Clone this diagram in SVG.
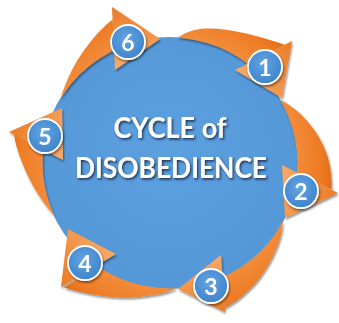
<svg xmlns="http://www.w3.org/2000/svg" width="339" height="323" viewBox="0 0 339 323">
<defs>
<style>
.band{fill:url(#bandGrad)}
.head{stroke:none}
.badge circle{fill:url(#badgeGrad);stroke:#ffffff;stroke-width:1.8}
.badge text{font-family:Lato,"Liberation Sans",sans-serif;font-weight:700;font-size:23px;fill:#ffffff;text-anchor:middle}
.title{font-family:Lato,"Liberation Sans",sans-serif;font-weight:700;font-size:28px;fill:#ffffff;text-anchor:middle}
</style>
<radialGradient id="bandGrad" gradientUnits="userSpaceOnUse" cx="170" cy="163" r="172">
<stop offset="0.72" stop-color="#F38D3C"/>
<stop offset="0.88" stop-color="#EE7B24"/>
<stop offset="1" stop-color="#D8620C"/>
</radialGradient>
<radialGradient id="badgeGrad" cx="0.45" cy="0.4" r="0.6">
<stop offset="0" stop-color="#62A5E4"/>
<stop offset="1" stop-color="#4084CA"/>
</radialGradient>
<radialGradient id="blueGrad" gradientUnits="userSpaceOnUse" cx="170" cy="150" r="135">
<stop offset="0" stop-color="#5CA0E0"/>
<stop offset="1" stop-color="#5598D8"/>
</radialGradient>
<linearGradient id="h1" gradientUnits="userSpaceOnUse" x1="240" y1="75" x2="292" y2="41"><stop offset="0" stop-color="#F7A868"/><stop offset="1" stop-color="#EC7B22"/></linearGradient>
<linearGradient id="h2" gradientUnits="userSpaceOnUse" x1="284" y1="172" x2="338" y2="193"><stop offset="0" stop-color="#F7A868"/><stop offset="1" stop-color="#EC7B22"/></linearGradient>
<linearGradient id="h3" gradientUnits="userSpaceOnUse" x1="214" y1="258" x2="225" y2="312"><stop offset="0" stop-color="#F7A868"/><stop offset="1" stop-color="#EC7B22"/></linearGradient>
<linearGradient id="h4" gradientUnits="userSpaceOnUse" x1="110" y1="250" x2="61" y2="287"><stop offset="0" stop-color="#F7A868"/><stop offset="1" stop-color="#EC7B22"/></linearGradient>
<linearGradient id="h5" gradientUnits="userSpaceOnUse" x1="62" y1="152" x2="9" y2="132"><stop offset="0" stop-color="#F7A868"/><stop offset="1" stop-color="#EC7B22"/></linearGradient>
<linearGradient id="h6" gradientUnits="userSpaceOnUse" x1="122" y1="66" x2="112" y2="7"><stop offset="0" stop-color="#F7A868"/><stop offset="1" stop-color="#EC7B22"/></linearGradient>
<mask id="outside" maskUnits="userSpaceOnUse" x="0" y="0" width="339" height="323">
<rect x="0" y="0" width="339" height="323" fill="#ffffff"/>
<ellipse cx="170" cy="163" rx="127.5" ry="125.5" fill="#000000"/>
</mask>
<filter id="shadow" x="-10%" y="-10%" width="120%" height="120%">
<feDropShadow dx="1" dy="1.8" stdDeviation="1.2" flood-color="#000000" flood-opacity="0.45"/>
</filter>
<filter id="textShadow" x="-10%" y="-20%" width="120%" height="140%">
<feDropShadow dx="1.3" dy="1.6" stdDeviation="0.9" flood-color="#14243a" flood-opacity="0.85"/>
</filter>
</defs>

<g id="center">
<ellipse cx="170" cy="163" rx="128" ry="126" fill="url(#blueGrad)"/>
</g>

<g id="connectors">
<g filter="url(#shadow)">
<g mask="url(#outside)">
<path class="band" d="M174,40 C185,32 195,29 205,28.5 C230,28 260,36 284.6,44.8 L240.7,67.1 C220,55 195,48 174,46 Z"/>
<path class="band" d="M281,100 C300,110 318,130 326,152 C330,163 332,176 331.5,189.5 L287.6,167.8 C285,140 280,120 272,105 Z"/>
<path class="band" d="M283,222 C282,240 272,262 258,280 C248,292 236,302 224.7,308 L221.4,260.7 C240,250 262,235 276,220 Z"/>
<path class="band" d="M176,289 C160,295 140,298 120,297.5 C100,297 80,292 64,287.5 L110.5,257.3 C130,270 155,280 176,284 Z"/>
<path class="band" d="M68,230 C55,218 40,200 30,180 C22,164 16,148 14,134.6 L57.6,157.2 C55,180 58,200 70,222 Z"/>
<path class="band" d="M58,108 C62,90 72,65 88,45 C96,35 104,26 112.6,19.6 L114.7,63.7 C100,75 85,90 70,105 Z"/>
</g>
<path class="head" fill="url(#h1)" d="M292,41 L282,98 L235,70 Z"/>
<path class="head" fill="url(#h2)" d="M338,193 L285,218 L282,165 Z"/>
<path class="head" fill="url(#h3)" d="M225,312 L178,289 L221,255 Z"/>
<path class="head" fill="url(#h4)" d="M61,287 L68,229 L116,254 Z"/>
<path class="head" fill="url(#h5)" d="M9,132 L62,108 L63,160 Z"/>
<path class="head" fill="url(#h6)" d="M112,7 L160,39 L115,70 Z"/>
</g>
</g>

<g id="title" filter="url(#textShadow)">
<text class="title" x="170" y="138" textLength="113" lengthAdjust="spacingAndGlyphs">CYCLE of</text>
<text class="title" x="171" y="178" textLength="192" lengthAdjust="spacingAndGlyphs">DISOBEDIENCE</text>
</g>

<g id="step1" class="badge" filter="url(#shadow)"><circle cx="265" cy="67" r="17"/><text x="265" y="75.5">1</text></g>
<g id="step2" class="badge" filter="url(#shadow)"><circle cx="301" cy="191" r="17"/><text x="301" y="199.5">2</text></g>
<g id="step3" class="badge" filter="url(#shadow)"><circle cx="211" cy="286" r="17"/><text x="211" y="294.5">3</text></g>
<g id="step4" class="badge" filter="url(#shadow)"><circle cx="85" cy="263" r="17"/><text x="85" y="271.5">4</text></g>
<g id="step5" class="badge" filter="url(#shadow)"><circle cx="45" cy="136" r="17"/><text x="45" y="144.5">5</text></g>
<g id="step6" class="badge" filter="url(#shadow)"><circle cx="128" cy="42" r="17"/><text x="128" y="50.5">6</text></g>
</svg>
